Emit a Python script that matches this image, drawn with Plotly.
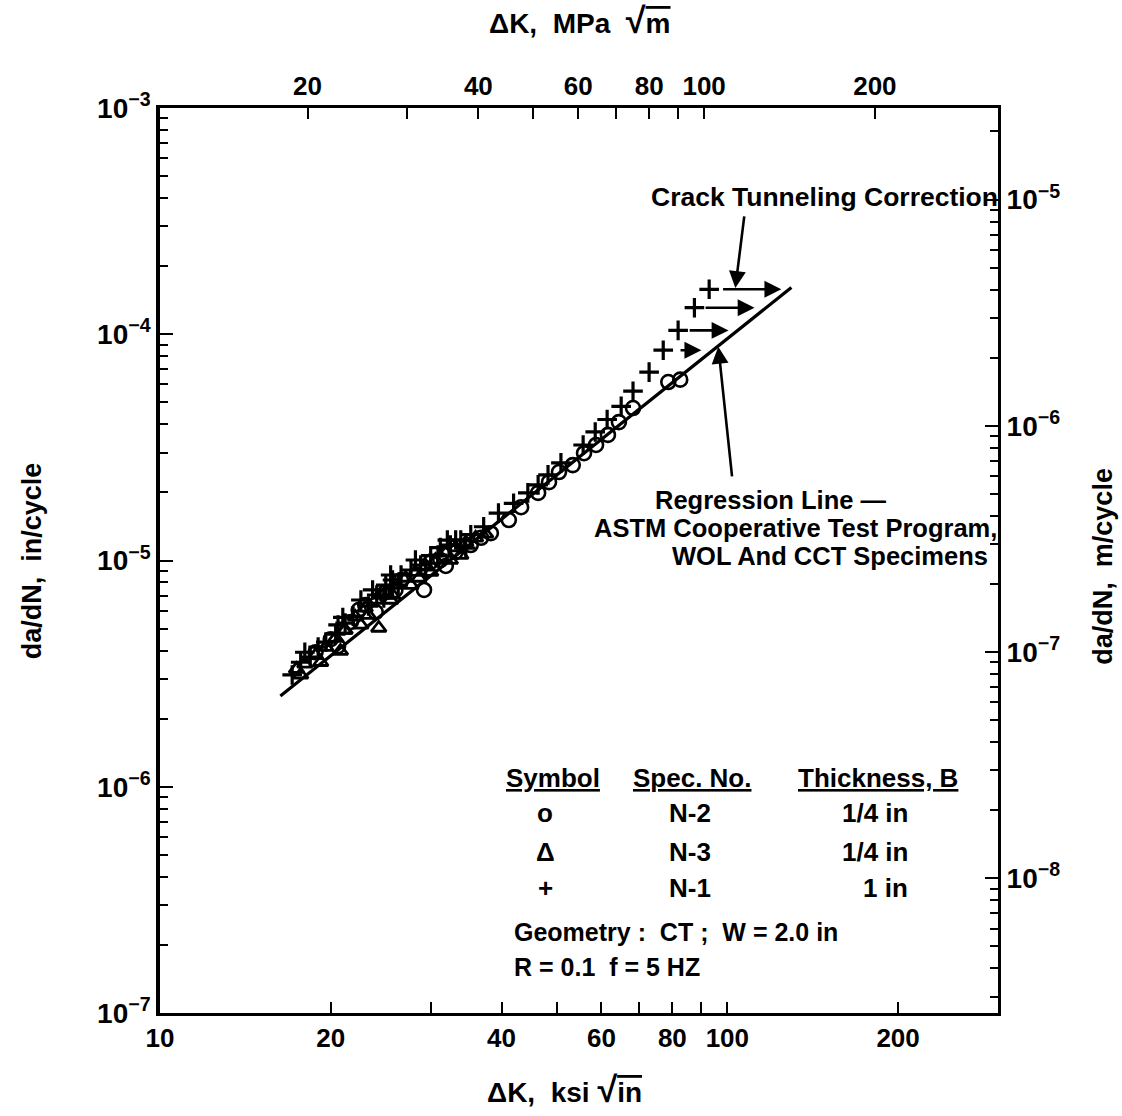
import numpy as np
import plotly.graph_objects as go

FONT = "Liberation Sans, Arial, sans-serif"
INK = "black"

# Specimen N-2 (B = 1/4 in), open circles
n2_dk = [18.8, 20.0, 20.6, 21.7, 22.4, 23.0, 24.0, 25.0, 26.0, 26.6, 29.2, 30.0, 31.2, 31.9, 33.2, 35.3, 36.8,
         38.3, 41.2, 43.3, 46.4, 48.5, 50.5, 53.4, 55.9, 58.7, 61.6, 64.4, 68.2, 78.7, 82.6]
n2_rate = [3.93e-6, 4.49e-6, 4.18e-6, 5.35e-6, 6.04e-6, 6.36e-6, 5.92e-6, 7.26e-6, 7.41e-6, 8.20e-6,
           7.41e-6, 9.85e-6, 1.005e-5, 9.46e-6, 1.09e-5, 1.17e-5, 1.26e-5,
           1.32e-5, 1.51e-5, 1.72e-5, 1.99e-5, 2.22e-5, 2.46e-5, 2.64e-5, 2.98e-5, 3.24e-5, 3.59e-5,
           4.09e-5, 4.72e-5, 6.15e-5, 6.3e-5]

# Specimen N-3 (B = 1/4 in), open triangles
n3_dk = [17.4, 17.7, 18.0, 18.8, 19.2, 19.6, 20.4, 20.8, 21.1, 21.2, 22.1, 22.6, 23.0, 23.3, 24.0, 24.3,
         25.0, 25.5, 25.7, 26.0, 27.1, 27.7, 28.2, 28.6, 29.4, 30.0, 30.6, 31.9, 32.5, 33.2, 33.9, 34.6,
         36.0, 37.5]
n3_rate = [3.31e-6, 3.12e-6, 3.49e-6, 3.81e-6, 3.55e-6, 4.14e-6, 4.54e-6, 3.98e-6, 4.93e-6, 4.93e-6,
           5.63e-6, 5.19e-6, 6.17e-6, 5.74e-6, 6.69e-6, 5.03e-6, 7.26e-6, 6.69e-6, 7.04e-6, 7.79e-6,
           8.37e-6, 7.79e-6, 8.89e-6, 8.37e-6, 9.46e-6, 8.89e-6, 1.005e-5, 1.08e-5, 1.005e-5, 1.14e-5,
           1.057e-5, 1.20e-5, 1.26e-5, 1.31e-5]

# Specimen N-1 (B = 1 in), plus signs
n1_dk = [17.1, 17.7, 18.0, 18.4, 19.0, 19.6, 20.4, 20.6, 21.0, 21.2, 21.9, 22.6, 23.3, 23.7, 24.1,
         24.8, 25.0, 25.5, 25.7, 26.3, 26.6, 27.7, 28.2, 28.8, 29.4, 30.0, 30.9, 31.2, 32.1, 32.5,
         33.2, 33.9, 34.6, 35.3,
         37.2, 39.5, 42.0, 44.5, 46.4, 48.3, 50.9, 55.7, 58.5, 61.4, 65.0, 68.2, 72.8, 77.1, 81.9, 87.5, 92.9]
n1_rate = [3.12e-6, 3.55e-6, 3.93e-6, 3.74e-6, 4.14e-6, 4.36e-6, 4.73e-6, 5.19e-6, 5.60e-6, 5.29e-6,
           5.68e-6, 6.69e-6, 6.29e-6, 7.41e-6, 7.04e-6,
           6.83e-6, 7.79e-6, 8.63e-6, 8.20e-6, 7.79e-6, 8.63e-6, 9.08e-6, 1.005e-5, 9.55e-6, 9.08e-6,
           1.05e-5, 1.057e-5, 1.14e-5, 1.23e-5, 1.17e-5,
           1.232e-5, 1.23e-5, 1.135e-5, 1.30e-5,
           1.41e-5, 1.62e-5, 1.79e-5, 1.99e-5, 2.16e-5, 2.39e-5, 2.70e-5, 3.24e-5, 3.70e-5, 4.20e-5,
           4.80e-5, 5.60e-5, 6.80e-5, 8.50e-5, 1.04e-4, 1.31e-4, 1.58e-4]

# Crack tunneling correction on the largest N-1 points
corr_rate = [1.58e-4, 1.31e-4, 1.04e-4, 8.5e-5]
corr_from = [97.7, 91.0, 85.3, 82.2]
corr_to = [124.5, 111.7, 100.5, 90.0]

# ASTM cooperative test program regression line
reg_dk = [16.3, 129.7]
reg_rate = [2.52e-6, 1.61e-4]

# Callout arrows (tail, head)
tunnel_tail = (107.2, 3.37e-4)
tunnel_head = (103.3, 1.60e-4)
regr_tail = (102.0, 2.32e-5)
regr_head = (96.4, 8.8e-5)

# Axis definitions
KSI_TO_MPA = 1.0988
IN_TO_M = 0.0254
dk_range = (10, 300)
rate_range = (1e-7, 1e-3)

bottom_ticks = [10, 20, 30, 40, 50, 60, 70, 80, 90, 100, 200, 300]
bottom_text = ["10", "20", "", "40", "", "60", "", "80", "", "100", "200", ""]
top_ticks = [20, 30, 40, 50, 60, 70, 80, 90, 100, 200]
top_text = ["20", "", "40", "", "60", "", "80", "", "100", "200"]
left_exps = [-7, -6, -5, -4, -3]
right_exps = [-8, -7, -6, -5]


def minor_vals(e0, e1):
    return [k * 10.0 ** e for e in range(e0, e1 + 1) for k in range(2, 10)]


fig = go.Figure()

fig.add_trace(go.Scatter(
    x=reg_dk, y=reg_rate, mode="lines",
    line=dict(color=INK, width=3.2), hoverinfo="skip", showlegend=False))

fig.add_trace(go.Scatter(
    x=n3_dk, y=n3_rate, mode="markers", name="N-3",
    marker=dict(symbol="triangle-up-open", size=13, color=INK, line=dict(width=2.8, color=INK)),
    showlegend=False))
fig.add_trace(go.Scatter(
    x=n2_dk, y=n2_rate, mode="markers", name="N-2",
    marker=dict(symbol="circle-open", size=14, color=INK, line=dict(width=2.6, color=INK)),
    showlegend=False))
fig.add_trace(go.Scatter(
    x=n1_dk, y=n1_rate, mode="markers", name="N-1",
    marker=dict(symbol="cross-thin", size=14, color=INK, line=dict(width=3.2, color=INK)),
    showlegend=False))

# empty trace so the secondary (MPa, m/cycle) axes are drawn
fig.add_trace(go.Scatter(x=[], y=[], xaxis="x2", yaxis="y2", showlegend=False, hoverinfo="skip"))

annotations = []
lg = np.log10

for r, a, b in zip(corr_rate, corr_from, corr_to):
    annotations.append(dict(
        x=lg(b), y=lg(r), ax=lg(a), ay=lg(r), xref="x", yref="y", axref="x", ayref="y",
        text="", showarrow=True, arrowhead=2, arrowsize=1.3, arrowwidth=2.6, arrowcolor=INK))

for tail, head in ((tunnel_tail, tunnel_head), (regr_tail, regr_head)):
    annotations.append(dict(
        x=lg(head[0]), y=lg(head[1]), ax=lg(tail[0]), ay=lg(tail[1]),
        xref="x", yref="y", axref="x", ayref="y",
        text="", showarrow=True, arrowhead=2, arrowsize=1.3, arrowwidth=2.6, arrowcolor=INK))


def note(text, x, y, xanchor="center", size=26, **kw):
    d = dict(text=text, x=x, y=y, xref="paper", yref="paper", xanchor=xanchor, yanchor="middle",
             showarrow=False, font=dict(family=FONT, size=size, color=INK))
    d.update(kw)
    annotations.append(d)


note("<b>Crack Tunneling Correction</b>", 1.002, 0.902, xanchor="right", size=26.5)
note("<b>Regression Line —</b>", 0.729, 0.567, size=25.5)
note("<b>ASTM Cooperative Test Program,</b>", 0.758, 0.536, size=25.5)
note("<b>WOL And CCT Specimens</b>", 0.800, 0.505, size=25.5)

# specimen table
note("<b><u>Symbol</u></b>", 0.469, 0.260)
note("<b><u>Spec. No.</u></b>", 0.635, 0.260)
note("<b><u>Thickness, B</u></b>", 0.857, 0.260)
rows_y = [0.221, 0.178, 0.138]
symbols = ["ο", "Δ", "+"]
specs = ["N-2", "N-3", "N-1"]
thick = ["1/4 in", "1/4 in", "1 in"]
for yy, s, sp, t in zip(rows_y, symbols, specs, thick):
    note(f"<b>{s}</b>", 0.460, yy)
    note(f"<b>{sp}</b>", 0.632, yy)
    note(f"<b>{t}</b>", 0.895, yy, xanchor="right")
note("<b>Geometry :  CT ;  W = 2.0 in</b>", 0.420, 0.090, xanchor="left", size=25)
note("<b>R = 0.1  f = 5 HZ</b>", 0.420, 0.051, xanchor="left", size=25)

# axis titles
root = "<span style='font-size:36px'>√</span>"
note("<b>da/dN,  in/cycle</b>", -0.153, 0.500, textangle=-90, size=27)
note("<b>da/dN,  m/cycle</b>", 1.125, 0.494, textangle=-90, size=27)
note(f"<b>ΔK,  ksi {root}<span style='text-decoration:overline'>in</span></b>", 0.483, -0.085, size=28)
note(f"<b>ΔK,  MPa  {root}<span style='text-decoration:overline'>m</span></b>", 0.501, 1.097, size=28)

axis_common = dict(type="log", showgrid=False, zeroline=False, showline=True, linecolor=INK,
                   ticks="inside", tickcolor=INK, tickangle=0, automargin=False)
xfont = dict(family=FONT, size=26, color=INK)
yfont = dict(family=FONT, size=28, color=INK)

fig.update_layout(
    width=1122, height=1116,
    margin=dict(l=160, r=124, t=108, b=103, autoexpand=False),
    paper_bgcolor="white", plot_bgcolor="white",
    showlegend=False,
    annotations=annotations,
    xaxis=dict(axis_common, range=[lg(dk_range[0]), lg(dk_range[1])], side="bottom",
               tickvals=bottom_ticks, ticktext=[f"<b>{t}</b>" for t in bottom_text], tickfont=xfont,
               ticklen=11, tickwidth=2.2, linewidth=3.2),
    xaxis2=dict(axis_common, range=[lg(dk_range[0] * KSI_TO_MPA), lg(dk_range[1] * KSI_TO_MPA)],
                side="top", overlaying="x", anchor="y",
                tickvals=top_ticks, ticktext=[f"<b>{t}</b>" for t in top_text], tickfont=xfont,
                ticklen=11, tickwidth=2.2, linewidth=3.2),
    yaxis=dict(axis_common, range=[lg(rate_range[0]), lg(rate_range[1])], side="left",
               tickvals=[10.0 ** e for e in left_exps],
               ticktext=[f"<b>10<sup>−{-e}</sup></b>" for e in left_exps], tickfont=yfont,
               ticklen=13, tickwidth=2.2, linewidth=3.6,
               minor=dict(tickvals=minor_vals(-7, -4), ticks="inside", ticklen=8, tickwidth=2, tickcolor=INK)),
    yaxis2=dict(axis_common, range=[lg(rate_range[0] * IN_TO_M), lg(rate_range[1] * IN_TO_M)],
                side="right", overlaying="y", anchor="x",
                tickvals=[10.0 ** e for e in right_exps],
                ticktext=[f"<b>10<sup>−{-e}</sup></b>" for e in right_exps], tickfont=yfont,
                ticklen=13, tickwidth=2.2, linewidth=3,
                minor=dict(tickvals=minor_vals(-9, -5), ticks="inside", ticklen=8, tickwidth=2, tickcolor=INK)),
)

fig.write_html("out.html")
